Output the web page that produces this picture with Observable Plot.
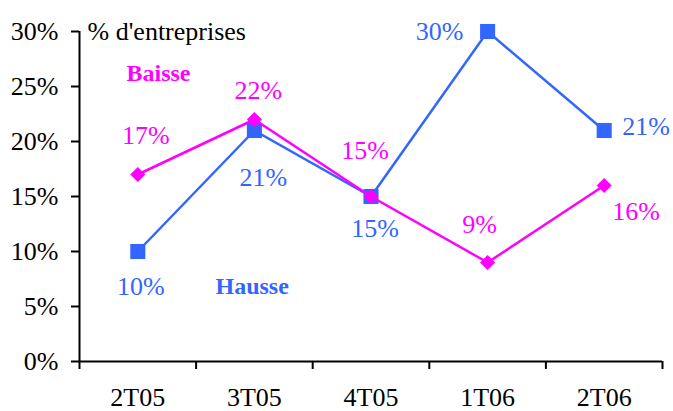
<!DOCTYPE html>
<html><head><meta charset="utf-8">
<script src="https://cdn.jsdelivr.net/npm/d3@7"></script>
<script src="https://cdn.jsdelivr.net/npm/@observablehq/plot@0.6"></script>
<style>body{margin:0;background:#fff}</style>
</head><body><div id="chart"></div>
<script>
const quarters = ["2T05", "3T05", "4T05", "1T06", "2T06"];
const hausse = [0.10, 0.21, 0.15, 0.30, 0.21];
const baisse = [0.17, 0.22, 0.15, 0.09, 0.16];
const yTicks = [0, 0.05, 0.10, 0.15, 0.20, 0.25, 0.30];
// label offsets (pixels) relative to each point
const hausseLabelDx = [3, 9, 4, -48, 42];
const hausseLabelDy = [35, 47, 32, 0, -4];
const baisseLabelDx = [8, 4, -6, -8, 32];
const baisseLabelDy = [-39, -29, -46, -38, 26];

const BLUE = "#3366FF", MAG = "#FF00FF";
const idx = quarters.map((q, i) => i);
const hRows = idx.map(i => ({i, v: hausse[i]}));
const bRows = idx.map(i => ({i, v: baisse[i]}));
const fmt = d3.format(".0%");
const xMin = -0.5, xMax = quarters.length - 0.5;
const bounds = d3.range(quarters.length + 1).map(i => i - 0.5);
const FONT = "Liberation Serif";
const FS = 26;

const labels = (rows, dxs, dys, color) => rows.map((r, k) =>
  Plot.text([r], {x: "i", y: "v", text: d => fmt(d.v), fill: color, dx: dxs[k], dy: dys[k], fontSize: FS, fontFamily: FONT}));

const chart = Plot.plot({
  width: 673, height: 411,
  marginLeft: 79, marginRight: 11, marginTop: 31, marginBottom: 50,
  style: {fontFamily: FONT, fontSize: FS + "px", color: "#000", background: "#fff", overflow: "visible"},
  x: {type: "linear", domain: [xMin, xMax]},
  y: {domain: [0, 0.30]},
  marks: [
    Plot.axisY({ticks: yTicks, tickFormat: fmt, tickSize: 8, tickPadding: 13, strokeWidth: 2, fontSize: FS, fontFamily: FONT, label: null}),
    Plot.axisX({ticks: idx, tickFormat: i => quarters[i], tickSize: 0, tickPadding: 26, fontSize: FS, fontFamily: FONT, label: null}),
    Plot.axisX({ticks: bounds, tickFormat: () => "", tickSize: 8, strokeWidth: 2, label: null}),
    Plot.ruleY([0], {stroke: "#000", strokeWidth: 2}),
    Plot.ruleX([xMin], {stroke: "#000", strokeWidth: 2}),
    Plot.lineY(hRows, {x: "i", y: "v", stroke: BLUE, strokeWidth: 2.5}),
    Plot.dot(hRows, {x: "i", y: "v", symbol: "square", r: 8.5, fill: BLUE}),
    Plot.lineY(bRows, {x: "i", y: "v", stroke: MAG, strokeWidth: 2.5}),
    Plot.dot(bRows, {x: "i", y: "v", symbol: "square", r: 6, rotate: 45, fill: MAG}),
    ...labels(hRows, hausseLabelDx, hausseLabelDy, BLUE),
    ...labels(bRows, baisseLabelDx, baisseLabelDy, MAG),
    Plot.text(["% d'entreprises"], {frameAnchor: "top-left", dx: 8, dy: 0, lineAnchor: "middle", textAnchor: "start", fill: "#000", fontSize: FS, fontFamily: FONT}),
    Plot.text(["Baisse"], {frameAnchor: "top-left", dx: 47, dy: 42, lineAnchor: "middle", textAnchor: "start", fill: MAG, fontWeight: "bold", fontSize: 24, fontFamily: FONT}),
    Plot.text(["Hausse"], {frameAnchor: "top-left", dx: 136, dy: 255, lineAnchor: "middle", textAnchor: "start", fill: BLUE, fontWeight: "bold", fontSize: 24, fontFamily: FONT})
  ]
});
document.getElementById("chart").append(chart);
</script>
</body></html>
